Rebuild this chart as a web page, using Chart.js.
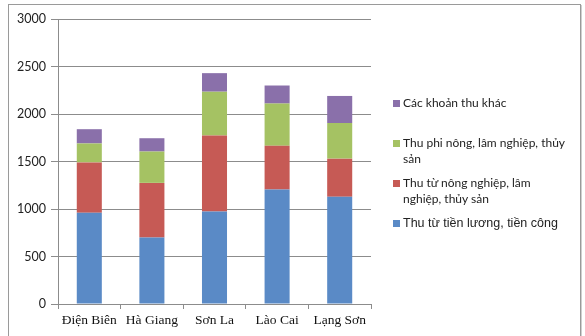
<!DOCTYPE html>
<html>
<head>
<meta charset="utf-8">
<script src="https://cdn.jsdelivr.net/npm/chart.js@4/dist/chart.umd.min.js"></script>
<style>
  html, body { margin: 0; padding: 0; background: #fff; }
  #wrap { position: relative; width: 585px; height: 336px; overflow: hidden; }
  #frame { position: absolute; left: 8px; top: 4px; width: 573px; height: 340px;
           border: 1px solid #9a9a9a; box-shadow: 1px 1px 0 #cfcfcf; box-sizing: border-box; }
  canvas { position: absolute; left: 0; top: 0; }
  .lg { position: absolute; left: 393px; color: #222; font-family: Lato, "Open Sans", sans-serif;
        font-size: 12px; line-height: 16px; }
  .lg .sw { position: absolute; left: 0; top: 5px; width: 7px; height: 7px; }
  .lg .tx { position: absolute; left: 10px; top: 0; white-space: nowrap; }
</style>
</head>
<body>
<div id="wrap">
  <div id="frame"></div>
  <canvas id="c" width="585" height="336"></canvas>
  <div id="legend"></div>
</div>
<script>
// Provinces and income components (thousand VND per person per month)
const provinces = ["Điện Biên", "Hà Giang", "Sơn La", "Lào Cai", "Lạng Sơn"];
const seriesNames = [
  "Thu từ tiền lương, tiền công",
  "Thu từ nông nghiệp, lâm nghiệp, thủy sản",
  "Thu phi nông, lâm nghiệp, thủy sản",
  "Các khoản thu khác"
];
const wages      = [960, 700, 975, 1205, 1130];
const agriculture = [530, 575, 800, 460, 400];
const nonAgri    = [200, 330, 460, 445, 375];
const otherIncome = [150, 140, 195, 190, 285];
const yTicks = [0, 500, 1000, 1500, 2000, 2500, 3000];

const colors = ["#5a8ac6", "#c65a55", "#a5c263", "#8a70aa"];
const values = [wages, agriculture, nonAgri, otherIncome];

const datasets = seriesNames.map((name, i) => ({
  label: name,
  data: values[i],
  backgroundColor: colors[i],
  borderWidth: 0,
  barPercentage: 0.4,
  categoryPercentage: 1.0
}));

const gridColor = "#8c8c8c";

new Chart(document.getElementById("c"), {
  type: "bar",
  data: { labels: provinces, datasets },
  options: {
    responsive: false,
    animation: false,
    layout: { padding: { left: 0, right: 214, top: 19, bottom: 0 } },
    plugins: { legend: { display: false }, tooltip: { enabled: false } },
    scales: {
      x: {
        stacked: true,
        grid: { offset: true, drawOnChartArea: false, drawTicks: true, tickLength: 5, color: gridColor },
        border: { display: true, color: gridColor },
        ticks: { color: "#111", padding: 3, font: { family: "'Liberation Serif', serif", size: 13.5 } },
        afterFit: s => { s.height = 32; }
      },
      y: {
        stacked: true,
        min: 0, max: 3000,
        afterBuildTicks: s => { s.ticks = yTicks.map(v => ({ value: v })); },
        grid: { color: gridColor, tickLength: 7 },
        border: { display: true, color: gridColor },
        ticks: {
          color: "#222", padding: 5,
          font: { family: "Lato, 'Open Sans', sans-serif", size: 12.5 },
          callback: v => String(v)
        },
        afterFit: s => { s.width = 58; }
      }
    }
  }
});

// Legend at right, top item is the last stacked series
const legendItems = [
  { idx: 3, top: 95, size: 12 },
  { idx: 2, top: 135, size: 12, text: "Thu phi nông, lâm nghiệp, thủy<br>sản" },
  { idx: 1, top: 175, size: 12, text: "Thu từ nông nghiệp, lâm<br>nghiệp, thủy sản" },
  { idx: 0, top: 215, size: 12.5, family: "'Liberation Sans', Arial, sans-serif" }
];
const lg = document.getElementById("legend");
legendItems.forEach(it => {
  const d = document.createElement("div");
  d.className = "lg";
  d.style.top = it.top + "px";
  d.style.fontSize = it.size + "px";
  if (it.family) d.style.fontFamily = it.family;
  d.innerHTML = '<span class="sw" style="background:' + colors[it.idx] + '"></span><span class="tx">' +
    (it.text || seriesNames[it.idx]) + '</span>';
  lg.appendChild(d);
});
</script>
</body>
</html>
